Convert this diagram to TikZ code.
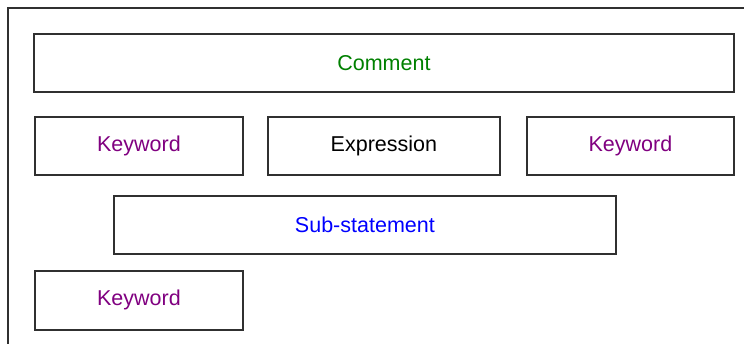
\documentclass[tikz,border=0pt]{standalone}
\usepackage{fontspec}
\setmainfont{Liberation Sans}
\definecolor{cgreen}{HTML}{008000}
\definecolor{cpurple}{HTML}{800080}
\definecolor{cblue}{HTML}{0000FF}
\definecolor{cline}{HTML}{303030}
\begin{document}
\begin{tikzpicture}[x=1pt,y=-1pt,
  blk/.style={draw=cline,line width=1.8pt,inner sep=0pt,anchor=north west,
    font=\fontsize{21.5}{25}\selectfont},
  frame/.style={draw=cline,line width=1.8pt}]
\useasboundingbox (0,0) rectangle (744,343);
\draw[frame] (8,350) -- (8,8) -- (750,8);
\node[blk,minimum width=700pt,minimum height=58pt,text=cgreen] (comment) at (33,33) {Comment};
\node[blk,minimum width=208pt,minimum height=58pt,text=cpurple] (kw1) at (34,116) {Keyword};
\node[blk,minimum width=232pt,minimum height=58pt,text=black] (expr) at (267,116) {Expression};
\node[blk,minimum width=207pt,minimum height=58pt,text=cpurple] (kw2) at (526,116) {Keyword};
\node[blk,minimum width=502pt,minimum height=58pt,text=cblue] (sub) at (113,195) {Sub-statement};
\node[blk,minimum width=208pt,minimum height=59pt,text=cpurple] (kw3) at (34,270) {Keyword};
\end{tikzpicture}
\end{document}
